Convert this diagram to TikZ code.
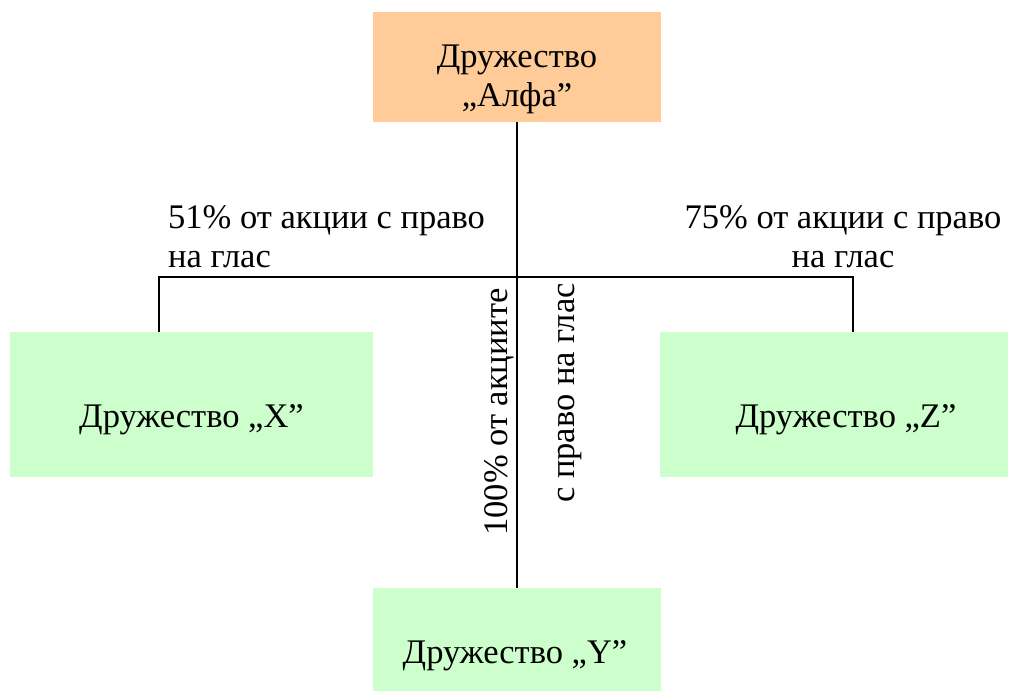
\documentclass[tikz,border=0pt]{standalone}
\usepackage{fontspec}
\setmainfont{Liberation Serif}
\definecolor{boxorange}{HTML}{FFCC99}
\definecolor{boxgreen}{HTML}{CCFFCC}
\begin{document}
\begin{tikzpicture}[x=1pt,y=-1pt,
  txt/.style={inner sep=0pt, font=\fontsize{34.5}{39}\selectfont},
  link/.style={draw=black, line width=2pt}]
\useasboundingbox (0,0) rectangle (1017,693);
% boxes
\fill[boxorange] (373,12) rectangle (661,122);
\fill[boxgreen] (10,332) rectangle (373,477);
\fill[boxgreen] (660,332) rectangle (1008,477);
\fill[boxgreen] (373,588) rectangle (661,691);
% two-line nodes: base anchor sits on the baseline of the last line
\node[txt, align=center, anchor=base] (alfa) at (517,106) {Дружество\\„Алфа”};
\node[txt, anchor=base] (x) at (191.5,427) {Дружество „X”};
\node[txt, anchor=base] (z) at (846,427) {Дружество „Z”};
\node[txt, anchor=base] (y) at (515,663) {Дружество „Y”};
% connectors
\coordinate (ab) at (517,122);
\coordinate (yt) at (517,588);
\coordinate (hl) at (159,277);
\coordinate (hr) at (853,277);
\coordinate (xt) at (159,332);
\coordinate (zt) at (853,332);
\draw[link] (ab) -- (yt);
\draw[link] (xt) -- (hl) -- (hr) -- (zt);
% labels
\node[txt, align=left, anchor=base west] (l51) at (168,267) {51\% от акции с право\\на глас};
\node[txt, align=center, anchor=base] (l75) at (843,267) {75\% от акции с право\\на глас};
\node[txt, rotate=90, anchor=base] (l100) at (507,412) {100\% от акциите};
\node[txt, rotate=90, anchor=base] (lglas) at (574,393) {с право на глас};
\end{tikzpicture}
\end{document}
